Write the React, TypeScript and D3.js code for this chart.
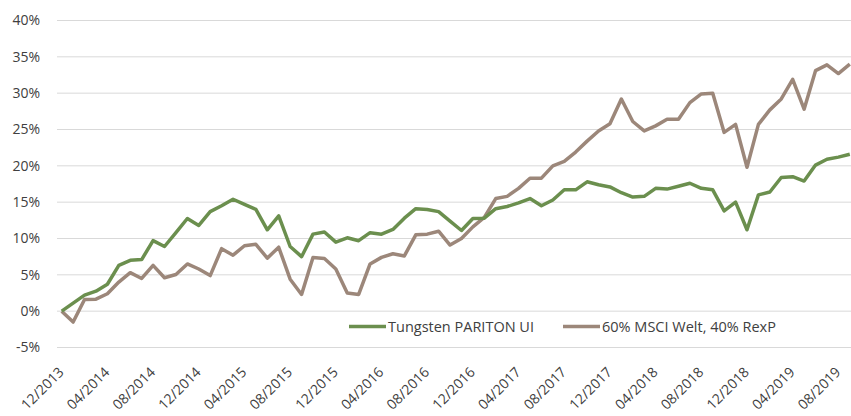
import * as d3 from "d3";

const months = d3.range(70).map((i) => d3.timeFormat("%m/%Y")(new Date(2013, 11 + i, 1)));
const tickLabels = months.filter((_, i) => i % 4 === 0);

// Tungsten PARITON UI, cumulative performance in %
const pariton = [
  0, 1.1, 2.2, 2.75, 3.7, 6.3, 7.0, 7.1, 9.7, 8.9, 10.8, 12.75, 11.8,
  13.7, 14.5, 15.4, 14.7, 14.0, 11.2, 13.1, 8.9, 7.5, 10.6, 10.9, 9.5,
  10.1, 9.7, 10.8, 10.6, 11.25, 12.8, 14.1, 14.0, 13.7, 12.4, 11.1, 12.75,
  12.8, 14.1, 14.4, 14.9, 15.5, 14.5, 15.3, 16.7, 16.7, 17.8, 17.4, 17.1,
  16.3, 15.7, 15.8, 16.9, 16.8, 17.2, 17.6, 16.9, 16.7, 13.8, 15.0, 11.2,
  16.0, 16.4, 18.4, 18.5, 17.9, 20.1, 20.9, 21.2, 21.6,
];

// 60% MSCI Welt, 40% RexP
const benchmark = [
  0, -1.5, 1.6, 1.65, 2.4, 4.0, 5.3, 4.5, 6.3, 4.6, 5.05, 6.5, 5.8,
  4.9, 8.6, 7.7, 9.0, 9.2, 7.3, 8.8, 4.4, 2.3, 7.4, 7.25, 5.8,
  2.5, 2.3, 6.5, 7.4, 7.9, 7.6, 10.5, 10.6, 11.0, 9.1, 10.0, 11.6,
  12.9, 15.5, 15.8, 16.9, 18.3, 18.3, 20.0, 20.6, 21.9, 23.4, 24.8, 25.8,
  29.2, 26.1, 24.8, 25.5, 26.4, 26.4, 28.7, 29.9, 30.0, 24.6, 25.7, 19.8,
  25.7, 27.7, 29.2, 31.9, 27.8, 33.1, 33.9, 32.7, 34.0,
];

const yTicks = [-5, 0, 5, 10, 15, 20, 25, 30, 35, 40];

const seriesNames = ["Tungsten PARITON UI", "60% MSCI Welt, 40% RexP"];
const seriesColors = ["#6b8f4e", "#9c877a"];

export default function App() {
  const width = 851;
  const height = 416;
  const plotLeft = 56;
  const plotRight = 855.5;
  const plotTop = 20.5;
  const plotBottom = 347.5;

  const x = d3.scaleBand(months, [plotLeft, plotRight]);
  const cx = (m: string) => (x(m) ?? 0) + x.bandwidth() / 2;
  const y = d3.scaleLinear([-5, 40], [plotBottom, plotTop]);

  const line = d3
    .line<number>()
    .x((_, i) => cx(months[i]))
    .y((d) => y(d));

  const font = "'Open Sans', 'Noto Sans', sans-serif";
  const textColor = "#404040";

  return (
    <svg
      width={width}
      height={height}
      style={{ position: "absolute", left: 0, top: 0, background: "#fff" }}
      fontFamily={font}
    >
      <g stroke="#d9d9d9" strokeWidth="1">
        {yTicks.map((t) => (
          <line key={t} x1={plotLeft + 1} x2={width} y1={y(t)} y2={y(t)} />
        ))}
      </g>
      <g fontSize="14" fill={textColor} textAnchor="end">
        {yTicks.map((t) => (
          <text key={t} x={40} y={y(t)} dy="0.35em">
            {t}%
          </text>
        ))}
      </g>
      <g fontSize="14" fill={textColor} textAnchor="end">
        {tickLabels.map((m) => (
          <text key={m} transform={`translate(${cx(m) + 3},373) rotate(-45)`}>
            {m}
          </text>
        ))}
      </g>
      <path d={line(benchmark) ?? ""} fill="none" stroke={seriesColors[1]} strokeWidth="3.5" strokeLinejoin="round" />
      <path d={line(pariton) ?? ""} fill="none" stroke={seriesColors[0]} strokeWidth="3.5" strokeLinejoin="round" />
      <g fontSize="14.5" fill={textColor}>
        {[349, 563].map((lx, i) => (
          <g key={i} transform={`translate(${lx},326.5)`}>
            <line x1={0} x2={37} y1={0} y2={0} stroke={seriesColors[i]} strokeWidth="3.5" />
            <text x={39} dy="0.35em">
              {seriesNames[i]}
            </text>
          </g>
        ))}
      </g>
    </svg>
  );
}
